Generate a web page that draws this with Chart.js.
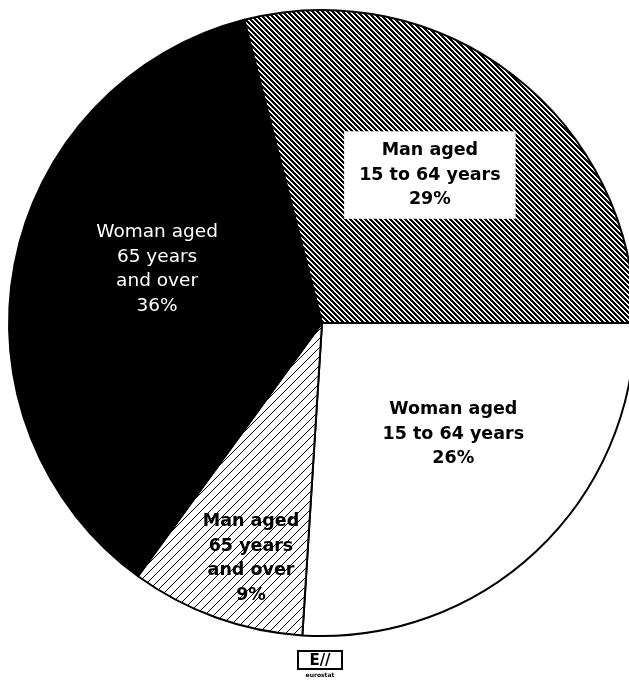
<!DOCTYPE html>
<html>
<head>
<meta charset="utf-8">
<script src="https://cdn.jsdelivr.net/npm/chart.js@4.4.1/dist/chart.umd.min.js"></script>
<style>
	html, body { margin: 0; padding: 0; background: #fff; overflow: hidden; }
	#pie { position: absolute; left: 0; top: 0; }
</style>
</head>
<body>
<canvas id="pie" width="644" height="681"></canvas>
<script>
// population by sex and age group, share in %
const groups = [
	['Man aged', '15 to 64 years'],
	['Woman aged', '15 to 64 years'],
	['Man aged', '65 years', 'and over'],
	['Woman aged', '65 years', 'and over']
];
const shares = [29, 26, 9, 36];

// [radius fraction, angle shift in degrees] for each slice label
const labelPlace = [[0.585, -1.7], [0.55, -6.5], [0.785, -3.0], [0.554, 7.2]];

const hatch = (size, width, dir) => {
	const tile = document.createElement('canvas');
	tile.width = tile.height = size;
	const ctx = tile.getContext('2d');
	const img = ctx.createImageData(size, size);
	for (let y = 0; y < size; y++) {
		for (let x = 0; x < size; x++) {
			const d = dir > 0 ? (x + y) % size : ((x - y) % size + size) % size;
			const v = d < width ? 0 : 255;
			const i = (y * size + x) * 4;
			img.data[i] = img.data[i + 1] = img.data[i + 2] = v;
			img.data[i + 3] = 255;
		}
	}
	ctx.putImageData(img, 0, 0);
	return ctx.createPattern(tile, 'repeat');
};

const fills = [hatch(5, 3, -1), '#ffffff', hatch(9, 1, 1), '#000000'];

const sliceLabels = {
	id: 'sliceLabels',
	afterDatasetsDraw: chart => {
		const ctx = chart.ctx;
		chart.getDatasetMeta(0).data.forEach((arc, i) => {
			const [frac, shift] = labelPlace[i];
			const mid = (arc.startAngle + arc.endAngle) / 2 + shift * Math.PI / 180;
			const r = arc.outerRadius * frac;
			const cx = arc.x + Math.cos(mid) * r;
			const cy = arc.y + Math.sin(mid) * r;
			const lines = [...groups[i], `${shares[i]}%`];
			const lh = 24.5;
			const dark = i === 3;
			ctx.save();
			ctx.font = dark ? '18.5px "DejaVu Sans"' : 'bold 17.5px "DejaVu Sans"';
			// dense hatch: clear a white band under the text so it stays readable
			if (i === 0) {
				const w = Math.max(...lines.map(t => ctx.measureText(t).width)) + 30;
				const h = lines.length * lh + 14;
				ctx.fillStyle = '#ffffff';
				ctx.fillRect(cx - w / 2, cy - h / 2, w, h);
			}
			ctx.fillStyle = dark ? '#ffffff' : '#000000';
			ctx.textAlign = 'center';
			ctx.textBaseline = 'middle';
			lines.forEach((t, j) => {
				ctx.fillText(t, cx, cy + (j - (lines.length - 1) / 2) * lh);
			});
			ctx.restore();
		});
	}
};

// small eurostat mark under the pie
const logo = {
	id: 'logo',
	afterDraw: chart => {
		const ctx = chart.ctx;
		ctx.save();
		ctx.strokeStyle = '#000';
		ctx.lineWidth = 2;
		ctx.strokeRect(298, 651, 44, 18);
		ctx.fillStyle = '#000';
		ctx.font = 'bold 15px "DejaVu Sans"';
		ctx.textAlign = 'center';
		ctx.textBaseline = 'middle';
		ctx.fillText('E//', 320, 661);
		ctx.font = 'bold 6px "DejaVu Sans"';
		ctx.fillText('eurostat', 320, 675);
		ctx.restore();
	}
};

new Chart(document.getElementById('pie'), {
	type: 'pie',
	data: {
		labels: groups.map(g => g.join(' ')),
		datasets: [{
			data: shares,
			backgroundColor: fills,
			borderColor: '#000000',
			borderWidth: 2,
			radius: 313
		}]
	},
	options: {
		responsive: false,
		devicePixelRatio: 1,
		animation: false,
		rotation: -14.4,
		events: [],
		layout: { padding: { left: 0, right: 0, top: 0, bottom: 35 } },
		plugins: {
			legend: { display: false },
			tooltip: { enabled: false }
		}
	},
	plugins: [sliceLabels, logo]
});
</script>
</body>
</html>
